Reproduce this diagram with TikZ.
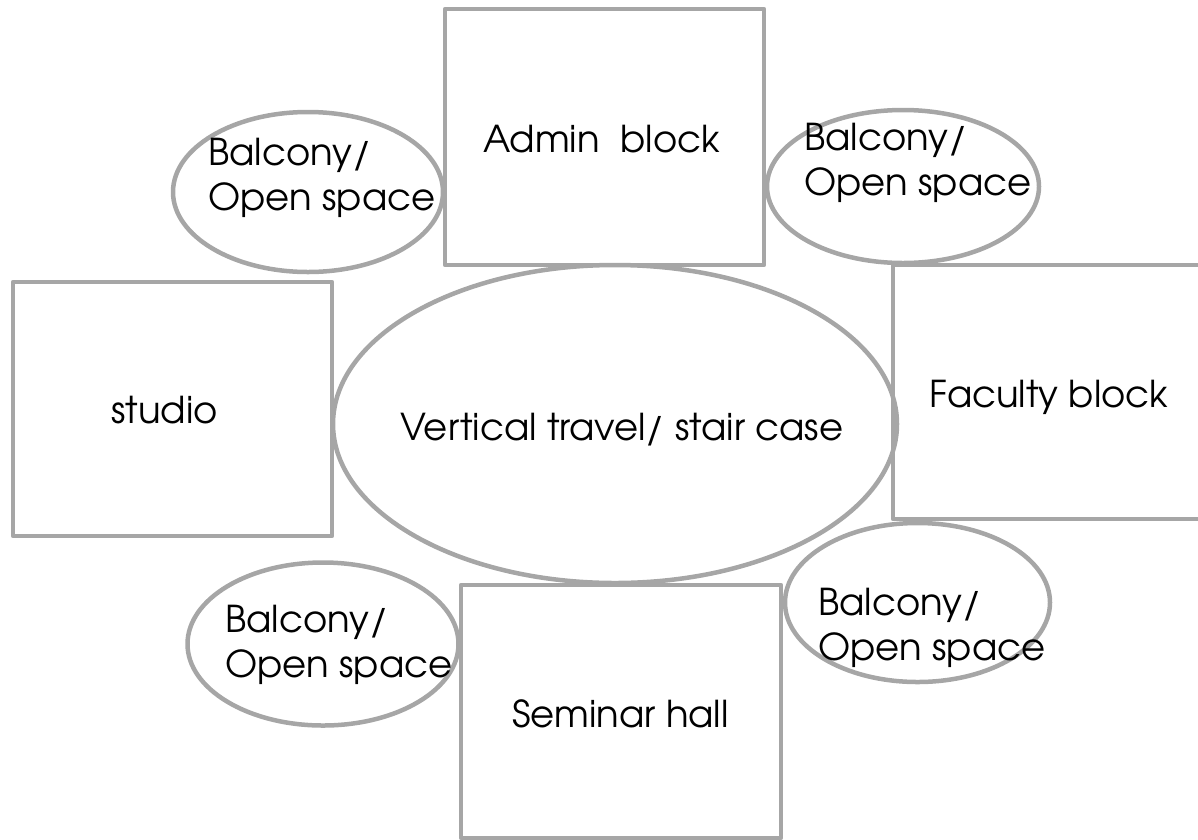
\documentclass[tikz,border=0pt]{standalone}
\usepackage{fontspec}
\setmainfont{TeX Gyre Adventor}
\usetikzlibrary{shapes.geometric}
\definecolor{linegray}{RGB}{166,166,166}

\tikzset{
  room/.style={draw=linegray, line width=4.5pt, rectangle, line join=round,
    inner sep=0pt, outer sep=0pt},
  openarea/.style={draw=linegray, line width=4.5pt, ellipse,
    inner sep=0pt, outer sep=0pt},
  roomtext/.style={font=\fontsize{37}{45}\selectfont, anchor=base west,
    inner sep=0pt},
}

\begin{document}
\begin{tikzpicture}[x=1pt, y=-1pt]

  %% -- Frame -------------------------------------------------------
  \useasboundingbox (0,0) rectangle (1198,839);

  %% -- Rooms (rectangles) ------------------------------------------
  \node[room, minimum width=319pt, minimum height=256pt] (admin)   at (604.5,137) {};
  \node[room, minimum width=319pt, minimum height=254pt] (studio)  at (172.5,409) {};
  \node[room, minimum width=322pt, minimum height=254pt] (faculty) at (1054,392) {};
  \node[room, minimum width=320pt, minimum height=253pt] (seminar) at (621,711.5) {};

  %% -- Stair core --------------------------------------------------
  \node[openarea, minimum width=564pt, minimum height=318pt] (stair) at (615,424) {};

  %% -- Balconies ---------------------------------------------------
  \node[openarea, minimum width=270pt, minimum height=160pt] (balconyNW) at (308,192) {};
  \node[openarea, minimum width=272pt, minimum height=153pt] (balconyNE) at (903,186.5) {};
  \node[openarea, minimum width=271pt, minimum height=163pt] (balconySW) at (323,644) {};
  \node[openarea, minimum width=265pt, minimum height=159pt] (balconySE) at (917.5,602.5) {};

  %% -- Labels ------------------------------------------------------
  \node[roomtext] (adminlbl)   at (483,152) {Admin\ \ block};
  \node[roomtext] (studiolbl)  at (111,423) {studio};
  \node[roomtext] (facultylbl) at (929,407) {Faculty block};
  \node[roomtext] (seminarlbl) at (512,727) {Seminar hall};
  \node[roomtext] (stairlbl)   at (400,440) {Vertical travel/ stair case};

  % base anchor of a two-line label is the last line
  \node[roomtext, align=left] (nwlbl) at (208,210) {Balcony/\\Open space};
  \node[roomtext, align=left] (nelbl) at (804,195) {Balcony/\\Open space};
  \node[roomtext, align=left] (swlbl) at (225,677) {Balcony/\\Open space};
  \node[roomtext, align=left] (selbl) at (818,660) {Balcony/\\Open space};

\end{tikzpicture}
\end{document}
